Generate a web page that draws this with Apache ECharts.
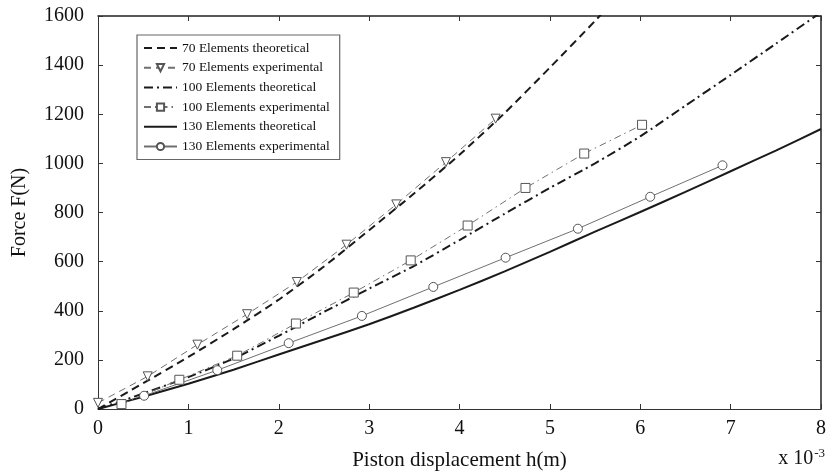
<!DOCTYPE html>
<html>
<head>
<meta charset="utf-8">
<script src="https://cdn.jsdelivr.net/npm/echarts@6/dist/echarts.min.js"></script>
<style>
html,body{margin:0;padding:0;background:#fff;}
#c{width:829px;height:476px;}
</style>
</head>
<body>
<div id="c"></div>
<script>
// ---- data (x in units of 1e-3 m, y in N) ----
var seriesNames = [
  '70 Elements theoretical',
  '70 Elements experimental',
  '100 Elements theoretical',
  '100 Elements experimental',
  '130 Elements theoretical',
  '130 Elements experimental'
];
var xTicks = [0, 1, 2, 3, 4, 5, 6, 7, 8];
var yTicks = [0, 200, 400, 600, 800, 1000, 1200, 1400, 1600];

var th70X = [0, 0.5, 1, 1.5, 2, 2.5, 3, 3.5, 4, 4.5, 5, 5.5, 5.7];
var th70Y = [0, 105, 212, 325, 445, 580, 728, 878, 1035, 1205, 1390, 1580, 1660];

var ex70X = [0, 0.55, 1.1, 1.65, 2.2, 2.75, 3.3, 3.85, 4.4];
var ex70Y = [25, 133, 262, 386, 517, 669, 833, 1005, 1182];

var th100X = [0, 0.5, 1, 1.5, 2, 2.5, 3, 3.5, 4, 4.5, 5, 5.5, 6, 6.5, 7, 7.5, 8];
var th100Y = [0, 63, 130, 205, 298, 395, 490, 583, 688, 795, 900, 1000, 1110, 1235, 1360, 1487, 1615];

var ex100X = [0.26, 0.9, 1.54, 2.19, 2.83, 3.46, 4.09, 4.73, 5.38, 6.02];
var ex100Y = [20, 119, 217, 348, 474, 605, 747, 900, 1040, 1157];

var th130X = [0, 0.5, 1, 1.5, 2, 2.5, 3, 3.5, 4, 4.5, 5, 5.5, 6, 6.5, 7, 7.5, 8];
var th130Y = [0, 50, 103, 160, 222, 283, 345, 413, 485, 560, 640, 722, 802, 884, 968, 1052, 1140];

var ex130X = [0.51, 1.32, 2.11, 2.92, 3.71, 4.51, 5.31, 6.11, 6.91];
var ex130Y = [54, 158, 268, 379, 497, 616, 734, 864, 992];

function pairs(xs, ys) {
  var out = [];
  for (var i = 0; i < xs.length; i++) out.push([xs[i], ys[i]]);
  return out;
}

var FONT = '"Liberation Serif", "DejaVu Serif", serif';
var chart = echarts.init(document.getElementById('c'), null, {renderer: 'canvas'});

var thColor = '#1a1a1a';
var exColor = '#707070';

function thSeries(name, xs, ys, dash) {
  return {
    name: name, type: 'line', data: pairs(xs, ys),
    xAxisIndex: 0, yAxisIndex: 0,
    showSymbol: false, symbol: 'circle', smooth: 0.2, clip: true,
    lineStyle: {color: thColor, width: 2, type: dash},
    itemStyle: {color: thColor},
    z: 3
  };
}
function exSeries(name, xs, ys, dash, symbol, rot) {
  return {
    name: name, type: 'line', data: pairs(xs, ys),
    xAxisIndex: 0, yAxisIndex: 0,
    symbol: symbol, symbolSize: 9, symbolRotate: rot || 0, showSymbol: true, clip: true,
    lineStyle: {color: exColor, width: 1, type: dash},
    itemStyle: {color: '#fff', borderColor: '#555', borderWidth: 1},
    z: 4
  };
}

var hidden = {color: 'rgba(0,0,0,0)', borderColor: 'rgba(0,0,0,0)', borderWidth: 0, opacity: 0};
var legendData = seriesNames.map(function (n, i) {
  return i % 2 === 0 ? {name: n, itemStyle: hidden} : {name: n};
});

var axisLineStyle = {color: '#333', width: 1};
var option = {
  backgroundColor: '#fff',
  animation: false,
  grid: {left: 98, right: 4, top: 16, bottom: 66, containLabel: false},
  legend: {
    orient: 'vertical', left: 137, top: 35,
    data: legendData,
    itemWidth: 33, itemHeight: 9, itemGap: 5.7,
    padding: [6, 10, 6, 6],
    borderColor: '#666', borderWidth: 1.2, backgroundColor: '#fff',
    textStyle: {fontFamily: FONT, fontSize: 13.5, color: '#111', lineHeight: 14}
  },
  xAxis: [{
    type: 'value', min: 0, max: 8, interval: 1, position: 'bottom',
    name: 'Piston displacement h(m)', nameLocation: 'middle', nameGap: 41,
    nameTextStyle: {fontFamily: FONT, fontSize: 21, color: '#111'},
    axisLine: {show: true, lineStyle: axisLineStyle},
    axisTick: {show: true, inside: true, length: 5, lineStyle: axisLineStyle},
    axisLabel: {fontFamily: FONT, fontSize: 20, color: '#111', margin: 10,
      formatter: function (v) { return xTicks.indexOf(v) >= 0 ? String(v) : ''; }},
    splitLine: {show: false}
  }, {
    type: 'value', min: 0, max: 8, interval: 1, position: 'top',
    axisLine: {show: true, onZero: false, lineStyle: {color: '#222', width: 1.5}},
    axisTick: {show: true, inside: true, length: 5, lineStyle: axisLineStyle},
    axisLabel: {show: false}, splitLine: {show: false}
  }],
  yAxis: [{
    type: 'value', min: 0, max: 1600, interval: 200, position: 'left',
    name: 'Force F(N)', nameLocation: 'middle', nameGap: 68, nameRotate: 90,
    nameTextStyle: {fontFamily: FONT, fontSize: 20, color: '#111'},
    axisLine: {show: true, lineStyle: axisLineStyle},
    axisTick: {show: true, inside: true, length: 5, lineStyle: axisLineStyle},
    axisLabel: {fontFamily: FONT, fontSize: 20, color: '#111', margin: 14,
      formatter: function (v) { return yTicks.indexOf(v) >= 0 ? String(v) : ''; }},
    splitLine: {show: false}
  }, {
    type: 'value', min: 0, max: 1600, interval: 200, position: 'right',
    axisLine: {show: true, onZero: false, lineStyle: {color: '#222', width: 1.5}},
    axisTick: {show: true, inside: true, length: 5, lineStyle: axisLineStyle},
    axisLabel: {show: false}, splitLine: {show: false}
  }],
  graphic: [{
    type: 'text', right: 4, top: 447,
    style: {
      text: '{a|x 10}{b|-3}',
      rich: {
        a: {fontFamily: FONT, fontSize: 20, fill: '#111'},
        b: {fontFamily: FONT, fontSize: 13, fill: '#111', padding: [0, 0, 11, 1]}
      }
    }
  }],
  series: [
    thSeries(seriesNames[0], th70X, th70Y, [8, 5]),
    exSeries(seriesNames[1], ex70X, ex70Y, [7, 5], 'triangle', 180),
    thSeries(seriesNames[2], th100X, th100Y, [9, 4, 2, 4]),
    exSeries(seriesNames[3], ex100X, ex100Y, [7, 4, 1.5, 4], 'rect'),
    thSeries(seriesNames[4], th130X, th130Y, 'solid'),
    exSeries(seriesNames[5], ex130X, ex130Y, 'solid', 'circle')
  ]
};
chart.setOption(option);
</script>
</body>
</html>
